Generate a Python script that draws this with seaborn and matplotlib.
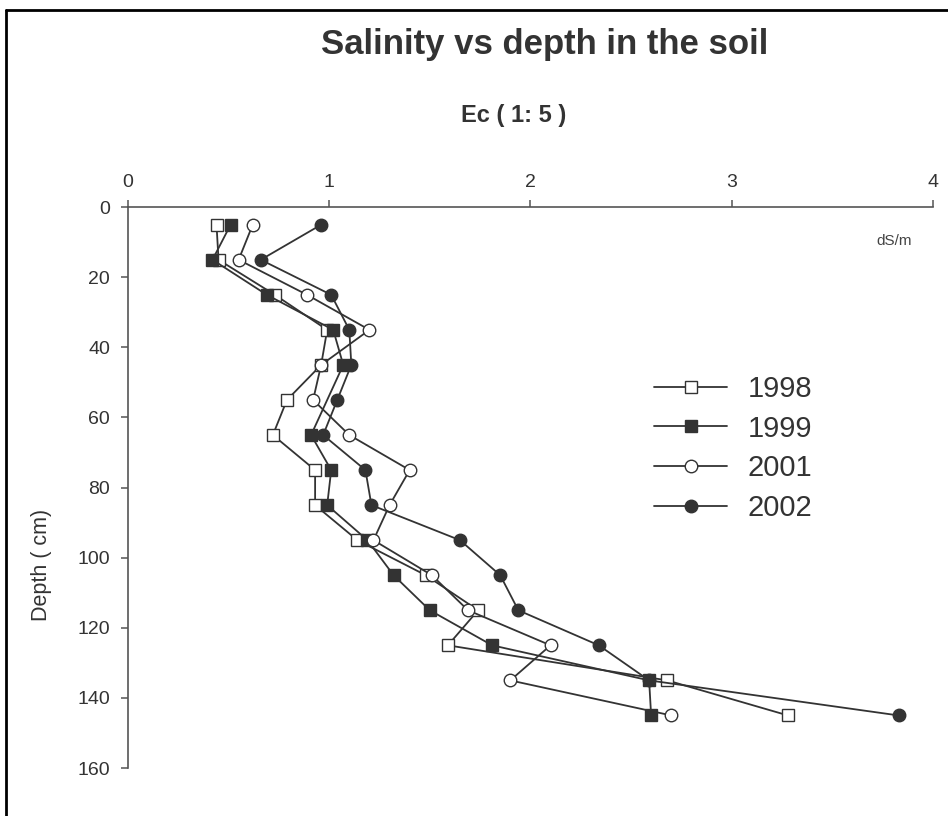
import numpy as np
import pandas as pd
import seaborn as sns
import matplotlib.pyplot as plt
from matplotlib.lines import Line2D

# profundidades (cm) e condutividade eletrica Ec (1:5) em dS/m
depth = [5, 15, 25, 35, 45, 55, 65, 75, 85, 95, 105, 115, 125, 135, 145]
depth_1999 = [5, 15, 25, 35, 45, 65, 75, 85, 95, 105, 115, 125, 135, 145]

ec_1998 = [0.44, 0.45, 0.73, 0.99, 0.96, 0.79, 0.72, 0.93, 0.93, 1.14, 1.48, 1.74, 1.59, 2.68, 3.28]
ec_1999 = [0.51, 0.42, 0.69, 1.02, 1.07, 0.91, 1.01, 0.99, 1.19, 1.32, 1.50, 1.81, 2.59, 2.60]
ec_2001 = [0.62, 0.55, 0.89, 1.20, 0.96, 0.92, 1.10, 1.40, 1.30, 1.22, 1.51, 1.69, 2.10, 1.90, 2.70]
ec_2002 = [0.96, 0.66, 1.01, 1.10, 1.11, 1.04, 0.97, 1.18, 1.21, 1.65, 1.85, 1.94, 2.34, 2.59, 3.83]

years = ['1998', '1999', '2001', '2002']
x_ticks = [0, 1, 2, 3, 4]
y_ticks = [0, 20, 40, 60, 80, 100, 120, 140, 160]

sns.set_style('ticks')
plt.rcParams['font.family'] = ['Liberation Sans', 'DejaVu Sans']

cor = '#333333'
series = [
    ('1998', depth, ec_1998, 's', 'white'),
    ('1999', depth_1999, ec_1999, 's', cor),
    ('2001', depth, ec_2001, 'o', 'white'),
    ('2002', depth, ec_2002, 'o', cor),
]

fig = plt.figure(figsize=(9.48, 8.16), dpi=100)
ax = fig.add_axes([0.135, 0.0588, 0.849, 0.6873])

for nome, d, ec, mk, face in series:
    df = pd.DataFrame({'ec': ec, 'depth': d})
    sns.lineplot(data=df, x='ec', y='depth', sort=False, estimator=None, ax=ax,
                 color=cor, linewidth=1.3, marker=mk, markersize=9,
                 markerfacecolor=face, markeredgecolor=cor, markeredgewidth=1.0,
                 label=nome)

ax.set_xlim(0, 4)
ax.set_ylim(160, 0)
ax.set_xticks(x_ticks)
ax.set_yticks(y_ticks)
ax.xaxis.tick_top()
ax.xaxis.set_label_position('top')
ax.spines['right'].set_visible(False)
ax.spines['bottom'].set_visible(False)
for s in ['top', 'left']:
    ax.spines[s].set_color('#555555')
    ax.spines[s].set_linewidth(1.2)
ax.tick_params(axis='both', labelsize=14, colors='#555555', labelcolor='#333333', length=5, width=1.1)
ax.tick_params(axis='x', pad=7)
ax.tick_params(axis='y', pad=8)
ax.set_xlabel('')
ax.set_ylabel('Depth ( cm)', fontsize=15.5, color='#333333')
ax.yaxis.set_label_coords(-0.094, 0.362)
ax.text(0.974, 0.94, 'dS/m', transform=ax.transAxes, ha='right', va='center',
        fontsize=11, color='#444444')

leg = ax.legend(loc='upper left', bbox_to_anchor=(0.636, 0.727), frameon=False,
                fontsize=21, handlelength=2.5, handletextpad=0.7, labelspacing=0.4,
                borderpad=0)
for t in leg.get_texts():
    t.set_color('#333333')

fig.text(0.575, 0.945, 'Salinity vs depth in the soil', ha='center', va='center',
         fontsize=25, fontweight='bold', color='#333333')
fig.text(0.542, 0.859, 'Ec ( 1: 5 )', ha='center', va='center',
         fontsize=17, fontweight='bold', color='#333333')

# moldura (apenas topo e esquerda aparecem)
fig.add_artist(Line2D([6 / 948, 6 / 948], [0, 1 - 10 / 816], transform=fig.transFigure, color='black', linewidth=2))
fig.add_artist(Line2D([6 / 948, 1], [1 - 10 / 816, 1 - 10 / 816], transform=fig.transFigure, color='black', linewidth=2))

fig.savefig('out.png', dpi=100)
